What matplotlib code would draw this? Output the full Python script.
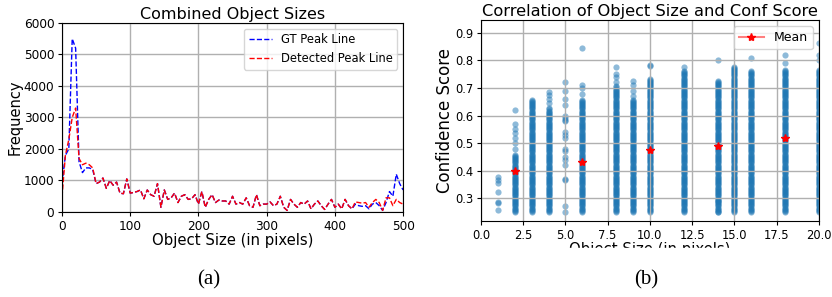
import numpy as np
import matplotlib
matplotlib.use("Agg")
import matplotlib.pyplot as plt
from matplotlib.patches import Rectangle

# ---- (a) size histogram lines, one value per 5 px bin ----
sizes = list(range(0, 501, 5))
gt_freq = [900, 1800, 2000, 5500, 5200, 1600, 1250, 1400, 1400, 1350,
           900, 950, 1080, 750, 1000, 850, 950, 600, 580, 1050,
           600, 620, 650, 700, 420, 700, 550, 500, 900, 150,
           700, 400, 450, 600, 300, 500, 550, 400, 420, 550,
           250, 650, 150, 400, 550, 300, 380, 350, 350, 250,
           500, 250, 300, 250, 450, 200, 150, 550, 200, 250,
           250, 320, 200, 250, 500, 150, 50, 400, 250, 150,
           300, 250, 350, 100, 250, 350, 200, 80, 250, 400,
           150, 250, 100, 400, 200, 100, 250, 200, 180, 200,
           100, 250, 300, 200, 50, 300, 650, 500, 1200, 900,
           700]
det_freq = [480, 1800, 2300, 3000, 3300, 1700, 1500, 1550, 1500, 1400,
            900, 950, 1080, 750, 1000, 850, 950, 600, 580, 1050,
            600, 620, 650, 700, 420, 700, 550, 500, 900, 150,
            700, 400, 450, 600, 300, 500, 550, 400, 420, 550,
            250, 650, 150, 400, 550, 300, 380, 350, 350, 250,
            500, 250, 300, 250, 450, 200, 150, 550, 200, 250,
            250, 320, 200, 250, 500, 150, 50, 400, 250, 150,
            300, 250, 350, 100, 250, 350, 200, 80, 250, 400,
            150, 250, 100, 400, 200, 100, 320, 300, 280, 300,
            150, 300, 400, 300, 50, 450, 450, 200, 400, 300,
            250]

# ---- (b) confidence per object size ----
# dense band (low, high) plus isolated points above / inside
obj_sizes = [1, 2, 3, 4, 5, 6, 8, 9, 10, 12, 14, 15, 16, 18, 20]
dense_lo = [None, 0.25, 0.25, 0.25, None, 0.25, 0.25, 0.25, 0.25, 0.25, 0.25, 0.25, 0.25, 0.25, 0.25]
dense_hi = [None, 0.46, 0.66, 0.63, None, 0.66, 0.71, 0.66, 0.735, 0.765, 0.73, 0.78, 0.765, 0.77, 0.77]
sparse = [
    [0.258, 0.282, 0.285, 0.324, 0.354, 0.366, 0.375],
    [0.48, 0.50, 0.52, 0.535, 0.55, 0.57, 0.62],
    [],
    [0.645, 0.66, 0.675, 0.685],
    [0.25, 0.27, 0.365, 0.37, 0.42, 0.44, 0.45, 0.47, 0.48, 0.52, 0.53,
     0.54, 0.58, 0.585, 0.59, 0.60, 0.64, 0.66, 0.69, 0.72],
    [0.68, 0.70, 0.71, 0.845],
    [0.72, 0.74, 0.75, 0.775],
    [0.67, 0.69, 0.71, 0.727],
    [0.78, 0.785],
    [0.775],
    [0.25, 0.29, 0.80],
    [],
    [0.81],
    [0.79, 0.82],
    [0.80, 0.82, 0.865],
]
mean_x = [2, 6, 10, 14, 18]
mean_y = [0.40, 0.43, 0.475, 0.488, 0.52]

xs, ys = [], []
for s, lo, hi, extra in zip(obj_sizes, dense_lo, dense_hi, sparse):
    if lo is not None:
        band = np.arange(lo, hi, 0.004)
        xs += [s] * len(band)
        ys += list(band)
    xs += [s] * len(extra)
    ys += extra

fig = plt.figure(figsize=(8.32, 2.97), dpi=100)

# --- left panel ---
ax = fig.add_axes([0.0745, 0.2862, 0.41, 0.6364])
ax.plot(sizes, gt_freq, color="blue", ls="--", lw=1, label="GT Peak Line")
ax.plot(sizes, det_freq, color="red", ls="--", lw=1, label="Detected Peak Line")
ax.set_xlim(0, 500)
ax.set_ylim(0, 6000)
ax.set_xticks([0, 100, 200, 300, 400, 500])
ax.grid(True, lw=1)
ax.tick_params(labelsize=8.7, length=3, pad=2.5)
ax.set_title("Combined Object Sizes", fontsize=11.5, pad=3)
ax.set_xlabel("Object Size (in pixels)", fontsize=10.7, labelpad=0)
ax.set_ylabel("Frequency", fontsize=10.5, labelpad=1)
ax.legend(fontsize=8.3, loc="upper right")

# --- right panel ---
ax = fig.add_axes([0.578, 0.2559, 0.4063, 0.6768])
ax.scatter(xs, ys, s=20, color="#1f77b4", alpha=0.5, linewidths=0)
for i, (mx, my) in enumerate(zip(mean_x, mean_y)):
    ax.plot([mx], [my], marker="*", ms=6, ls="-", color=(1, 0, 0, 0.5),
            mfc="red", mec="red", label="Mean" if i == 0 else None, zorder=3)
ax.set_xlim(0, 20)
ax.set_ylim(0.217, 0.947)
ax.set_xticks([0, 2.5, 5, 7.5, 10, 12.5, 15, 17.5, 20])
ax.set_yticks([0.3, 0.4, 0.5, 0.6, 0.7, 0.8, 0.9])
ax.grid(True, lw=1)
ax.tick_params(labelsize=8.3, length=3, pad=2.5)
ax.set_title("Correlation of Object Size and Conf Score", fontsize=11.7, pad=3)
ax.set_xlabel("Object Size (in pixels)", fontsize=10.7, labelpad=0)
ax.set_ylabel("Confidence Score", fontsize=12, labelpad=1)
ax.legend(fontsize=9, loc="upper right")

# cropped bottom of the right-hand sub-figure
fig.patches.append(Rectangle((0.5, 0), 0.5, 1 - 248 / 297, transform=fig.transFigure,
                             color="white", zorder=10))

fig.text(209 / 832, 1 - 280 / 297, "(a)", ha="center", va="center",
         family="Liberation Serif", fontsize=15, zorder=20)
fig.text(646 / 832, 1 - 280 / 297, "(b)", ha="center", va="center",
         family="Liberation Serif", fontsize=15, zorder=20)

fig.savefig("out.png", dpi=100)
